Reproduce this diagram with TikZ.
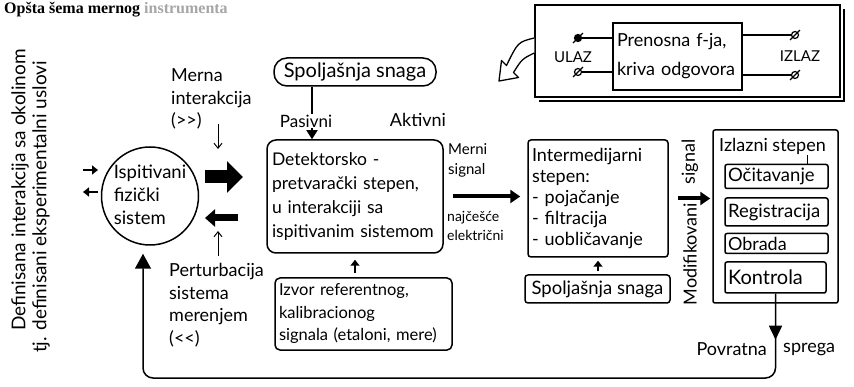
\documentclass[tikz,border=0pt]{standalone}
\usepackage{fontspec}
\setmainfont{Lato}
\newfontfamily\titlefont{Liberation Serif}
\usetikzlibrary{arrows.meta,shapes.geometric}
\newcommand\fsz[2]{\fontsize{#1}{#2}\selectfont}
\begin{document}
\begin{tikzpicture}[x=1pt,y=-1pt,
  box/.style={draw, line width=1.5pt, inner sep=0pt},
  tx/.style={inner sep=0pt, align=left},
  thinarrow/.style={line width=1pt, -{Straight Barb[length=5pt,width=8pt]}},
  midarrow/.style={line width=2.4pt, -{Triangle[length=6pt,width=9pt]}},
  fatarrow/.style={line width=4pt, -{Triangle[length=10pt,width=13pt]}},
  term/.style={circle, draw, line width=1.2pt, minimum size=7pt, inner sep=0pt}
]
\useasboundingbox (0,0) rectangle (854,387);

% title
\node[anchor=base west, inner sep=0pt, font=\titlefont\bfseries\fsz{16}{16}] (title) at (4,14) {Opšta šema mernog \textcolor{gray!70}{instrumenta}};

% left vertical text
\node[tx, rotate=90, font=\fsz{19}{19}] (env1) at (20,190) {Definisana interakcija sa okolinom};
\node[tx, rotate=90, font=\fsz{19}{19}] (env2) at (41,207) {tj. definisani eksperimentalni uslovi};
\coordinate (la1) at (83,170); \coordinate (la2) at (98,170);
\coordinate (lb1) at (98,192); \coordinate (lb2) at (83,192);
\draw[midarrow] (la1) -- (la2);
\draw[midarrow] (lb1) -- (lb2);

% tested system
\node[draw, ellipse, line width=1.5pt, minimum width=97pt, minimum height=98pt, inner sep=0pt] (isp) at (150,196) {};
\node[tx, font=\fsz{18.5}{23}] (ispt) at (150,195) {Ispitivani\\fizički\\sistem};

% measurement interaction
\node[tx, font=\fsz{18}{22.5}, anchor=west] (mi) at (171,99) {Merna\\interakcija\\(>{}>)};
\coordinate (mia) at (218,124); \coordinate (mib) at (218,149);
\draw[thinarrow] (mia) -- (mib);
\coordinate (ba1) at (205,177); \coordinate (ba2) at (243,177);
\draw[line width=13pt, -{Triangle[length=16pt,width=31pt]}] (ba1) -- (ba2);
\coordinate (bb1) at (238,218); \coordinate (bb2) at (205,218);
\draw[line width=7pt, -{Triangle[length=10pt,width=17pt]}] (bb1) -- (bb2);
\coordinate (pa) at (218,256); \coordinate (pb) at (218,231);
\draw[thinarrow] (pa) -- (pb);
\node[tx, font=\fsz{18}{22.5}, anchor=west] (pert) at (169,305) {Perturbacija\\sistema\\merenjem\\(<{}<)};

% external power (top)
\node[box, rounded corners=13pt, minimum width=162pt, minimum height=28pt, font=\fsz{20}{20}] (sp1) at (355,72) {Spoljašnja snaga};
% detector stage
\node[box, rounded corners=9pt, minimum width=176pt, minimum height=113pt, text width=166pt, align=left, font=\fsz{17.5}{24}] (det) at (355,196.5) {Detektorsko -\\pretvarački stepen,\\u interakciji sa\\ispitivanim sistemom};
\coordinate (pas) at (312,100);
\draw[line width=1.5pt, -{Triangle[length=9pt,width=11pt]}] (pas |- sp1.south) -- (pas |- det.north);
\node[tx, font=\fsz{17}{17}, fill=white, inner sep=1pt] (pasivni) at (306,121) {Pasivni};
\node[tx, font=\fsz{18}{18}] (aktivni) at (418,120) {Aktivni};

% reference source
\node[box, rounded corners=5pt, minimum width=177pt, minimum height=72pt, text width=169pt, align=left, font=\fsz{16.5}{22.5}] (izv) at (363.5,314) {Izvor referentnog,\\kalibracionog\\signala (etaloni, mere)};
\draw[midarrow, shorten <=4pt, shorten >=6pt] (det.south |- izv.north) -- (det.south);

% measured signal
\node[tx, font=\fsz{15}{20}, anchor=west] (ms) at (448,160) {Merni\\signal};
\node[tx, font=\fsz{14}{19}, anchor=west] (ne) at (447,226) {najčešće\\električni};

% intermediate stage
\node[box, rounded corners=3pt, minimum width=140pt, minimum height=117pt, text width=132pt, align=left, font=\fsz{18}{21}] (inter) at (598,198.5) {Intermedijarni\\stepen:\\- pojačanje\\- filtracija\\- uobličavanje};
\draw[fatarrow, shorten <=9pt, shorten >=7pt] (det.east) -- (det.east -| inter.west);
\node[box, rounded corners=3pt, minimum width=145pt, minimum height=28pt, font=\fsz{18.5}{18.5}] (sp2) at (597.5,289) {Spoljašnja snaga};
\draw[midarrow, shorten <=3pt, shorten >=3pt] (inter.south |- sp2.north) -- (inter.south);

% modified signal
\node[tx, rotate=90, font=\fsz{18}{18}] (mod1) at (690,254) {Modifikovani};
\node[tx, rotate=90, font=\fsz{18}{18}] (mod2) at (690,162) {signal};

% output stage
\node[box, rounded corners=2pt, minimum width=125pt, minimum height=173pt] (out) at (775.5,216.5) {};
\draw[fatarrow, shorten <=9pt, shorten >=2pt] (inter.east) -- (inter.east -| out.west);
\node[tx, font=\fsz{18}{18}, anchor=west] (outt) at (719,146) {Izlazni stepen};
\node[box, rounded corners=2pt, minimum width=103pt, minimum height=24pt, text width=97pt, align=left, font=\fsz{18.5}{18.5}] (oci) at (776.5,176.5) {Očitavanje};
\node[box, rounded corners=2pt, minimum width=103pt, minimum height=28pt, text width=97pt, align=left, font=\fsz{18.5}{18.5}] (reg) at (776.5,212) {Registracija};
\node[box, rounded corners=2pt, minimum width=103pt, minimum height=20pt, text width=97pt, align=left, font=\fsz{18}{18}] (obr) at (776.5,243.5) {Obrada};
\node[box, rounded corners=2pt, minimum width=101pt, minimum height=31pt, text width=95pt, align=left, font=\fsz{20}{20}] (kon) at (775.5,277.5) {Kontrola};
\coordinate (ol) at (807,155);
\draw[line width=1pt] (ol) -- (ol |- oci.north);

% feedback
\coordinate (fbc) at (143,378);
\draw[line width=1.5pt, -{Triangle[length=14pt,width=13pt]}] (kon.south) -- ++(0,46);
\draw[line width=1.5pt, rounded corners=10pt, -{Triangle[length=15pt,width=16pt]}, shorten >=8pt] (kon.south) -- (kon.south |- fbc) -- (fbc) -- (fbc |- isp.south);
\node[tx, font=\fsz{18}{18}, anchor=east] (pov) at (767,349) {Povratna};
\node[tx, font=\fsz{18}{18}, anchor=west] (spr) at (783,350) {sprega};

% transfer function panel (top right)
\draw[line width=1.2pt] (539,101) -- (844,101) -- (844,9);
\node[box, line width=1.5pt, minimum width=305pt, minimum height=92pt] (panel) at (687.5,51) {};
\node[box, minimum width=129pt, minimum height=67pt, text width=121pt, align=left, font=\fsz{18}{29}] (tf) at (677.5,56.5) {Prenosna f-ja,\\kriva odgovora};
\node[term, fill=black] (t1) at (578,38) {};
\node[term] (t2) at (578,72) {};
\node[term] (t3) at (795,35) {};
\node[term] (t4) at (795,75) {};
\draw[line width=1.3pt] (t1) -- (t1 -| tf.west);
\draw[line width=1.3pt] (t2) -- (t2 -| tf.west);
\draw[line width=1.3pt] (t3) -- (t3 -| tf.east);
\draw[line width=1.3pt] (t4) -- (t4 -| tf.east);
\foreach \t in {t1,t2,t3,t4}{
  \draw[line width=1.2pt] ([shift={(-2,2)}]\t.south west) -- ([shift={(2,-2)}]\t.north east);
}
\node[tx, font=\fsz{15}{15}] (ulaz) at (573,57) {ULAZ};
\node[tx, font=\fsz{15}{15}] (izlaz) at (800,56) {IZLAZ};
% hollow curved arrow
\draw[line width=1.3pt, fill=white, line join=round]
  (panel.west |- 0,38) .. controls (518,42) .. (506.5,65.5) -- (501.5,60.5) -- (499,81)
  -- (518.5,77.5) -- (513.5,72.5) .. controls (522,59) .. (panel.west |- 0,53);
\end{tikzpicture}
\end{document}
